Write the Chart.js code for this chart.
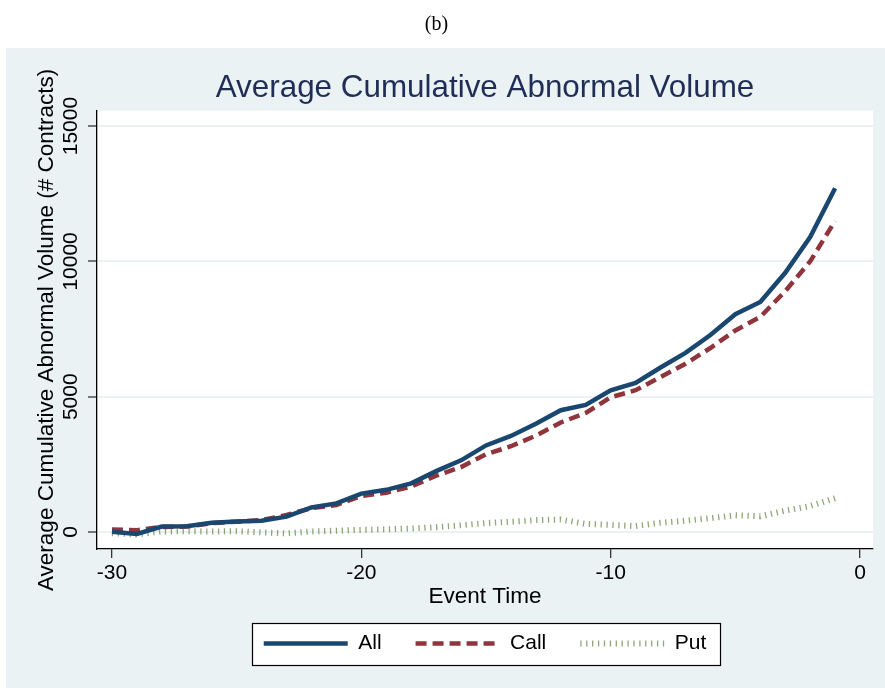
<!DOCTYPE html>
<html>
<head>
<meta charset="utf-8">
<script src="https://cdn.jsdelivr.net/npm/chart.js@4.4.1/dist/chart.umd.min.js"></script>
<style>
  html, body { margin: 0; padding: 0; background: #ffffff; }
  #wrap { width: 885px; height: 688px; }
</style>
</head>
<body>
<div id="wrap"><canvas id="c" width="885" height="688"></canvas></div>
<script>
const eventTime = [-30, -29, -28, -27, -26, -25, -24, -23, -22, -21, -20, -19, -18, -17, -16, -15, -14, -13, -12, -11, -10, -9, -8, -7, -6, -5, -4, -3, -2, -1];
const allVals  = [10, -70, 200, 210, 340, 390, 420, 570, 910, 1060, 1420, 1560, 1800, 2250, 2650, 3200, 3550, 4000, 4500, 4700, 5240, 5510, 6080, 6620, 7280, 8050, 8500, 9580, 10900, 12700];
const callVals = [90, 70, 190, 200, 330, 380, 440, 630, 880, 1000, 1330, 1450, 1680, 2080, 2400, 2870, 3170, 3560, 4050, 4400, 4980, 5240, 5730, 6220, 6800, 7450, 7950, 8900, 10000, 11500];
const putVals  = [-40, -90, 20, 30, 20, 30, -10, -50, 20, 50, 80, 100, 130, 180, 250, 330, 380, 440, 460, 300, 260, 220, 340, 420, 510, 620, 580, 790, 960, 1250];
const xTickVals = [-30, -20, -10, 0];
const yTickVals = [0, 5000, 10000, 15000];
const seriesNames = ['All', 'Call', 'Put'];

const FONT = "'Liberation Sans', Arial, sans-serif";
const BG = '#eaf2f3';

const bgPlugin = {
  id: 'bgPlugin',
  beforeDraw(chart) {
    const ctx = chart.ctx;
    const a = chart.chartArea;
    ctx.save();
    ctx.fillStyle = '#ffffff';
    ctx.fillRect(0, 0, chart.width, chart.height);
    ctx.fillStyle = BG;
    ctx.fillRect(6, 48, chart.width - 6, chart.height - 48);
    ctx.fillStyle = '#ffffff';
    ctx.fillRect(a.left, a.top, a.right - a.left, a.bottom - a.top);
    const lg = chart.legend;
    if (lg && lg.legendHitBoxes && lg.legendHitBoxes.length) {
      let x0 = Infinity, x1 = -Infinity, cy = 0;
      lg.legendHitBoxes.forEach(h => {
        x0 = Math.min(x0, h.left);
        x1 = Math.max(x1, h.left + h.width);
        cy = h.top + h.height / 2;
      });
      const L = Math.round(x0 - 12) + 0.5, R = Math.round(x1 + 14) + 0.5, T = Math.round(cy - 21) + 0.5, B = Math.round(cy + 21) + 0.5;
      ctx.fillStyle = '#ffffff';
      ctx.fillRect(L, T, R - L, B - T);
      ctx.strokeStyle = '#000000';
      ctx.lineWidth = 1.2;
      ctx.strokeRect(L, T, R - L, B - T);
    }
    ctx.restore();
  }
};

const toXY = (vals) => vals.map((v, i) => ({ x: eventTime[i], y: v }));

new Chart(document.getElementById('c'), {
  type: 'line',
  data: {
    datasets: [
      { label: seriesNames[0], data: toXY(allVals), borderColor: '#1a476f', borderWidth: 4.5, borderDash: [], pointRadius: 0, tension: 0, fill: false },
      { label: seriesNames[1], data: toXY(callVals), borderColor: '#90353b', borderWidth: 4.5, borderDash: [11, 6], pointRadius: 0, tension: 0, fill: false },
      { label: seriesNames[2], data: toXY(putVals), borderColor: 'rgba(85,117,47,0.65)', borderWidth: 6, borderDash: [1.3, 4.6], pointRadius: 0, tension: 0, fill: false }
    ]
  },
  options: {
    responsive: false,
    animation: false,
    devicePixelRatio: 1,
    layout: { padding: { left: 0, right: 12, top: 0, bottom: 24 } },
    plugins: {
      title: {
        display: true, text: '(b)', color: '#000000',
        font: { family: "'Liberation Serif', 'DejaVu Serif', serif", size: 20, weight: 'normal', lineHeight: 1.2 },
        padding: { top: 13, bottom: 33 }
      },
      subtitle: {
        display: true, fullSize: false, text: 'Average Cumulative Abnormal Volume', color: '#1f2d57',
        font: { family: FONT, size: 31.4, weight: 'normal', lineHeight: 1.2 },
        padding: { top: 0, bottom: 3 }
      },
      legend: {
        display: true, position: 'bottom', fullSize: false,
        labels: {
          usePointStyle: true, pointStyle: 'line', pointStyleWidth: 84,
          color: '#000000', padding: 34,
          font: { family: FONT, size: 21 },
          generateLabels(chart) {
            return chart.data.datasets.map((d, i) => ({
              text: d.label, strokeStyle: d.borderColor, fillStyle: d.borderColor,
              lineWidth: d.borderWidth, lineDash: d.borderDash, lineCap: 'butt',
              pointStyle: 'line', hidden: false, datasetIndex: i, fontColor: '#000000'
            }));
          }
        }
      },
      tooltip: { enabled: false }
    },
    scales: {
      x: {
        type: 'linear', min: -30.6, max: 0.52,
        afterBuildTicks(s) { s.ticks = xTickVals.map(v => ({ value: v })); },
        afterFit(s) { s.height = 50; },
        grid: { drawOnChartArea: false, color: '#333333', tickLength: 9, lineWidth: 1.3 },
        border: { display: true, color: '#000000', width: 1.3 },
        ticks: { color: '#000000', font: { family: FONT, size: 21 }, padding: 3, maxRotation: 0, autoSkip: false, callback: v => String(v) },
        title: { display: true, text: 'Event Time', color: '#000000', font: { family: FONT, size: 22.5 }, padding: { top: 0, bottom: -11 } }
      },
      y: {
        type: 'linear', min: -627, max: 15570,
        afterBuildTicks(s) { s.ticks = yTickVals.map(v => ({ value: v })); },
        afterFit(s) { s.width = 97; },
        grid: { drawOnChartArea: true, color: BG, lineWidth: 2, tickColor: '#333333', tickWidth: 1.3, tickLength: 9 },
        border: { display: true, color: '#000000', width: 1.3 },
        ticks: { color: '#000000', font: { family: FONT, size: 21 }, minRotation: 90, maxRotation: 90, crossAlign: 'center', padding: -12, autoSkip: false, callback: v => String(v) },
        title: { display: true, text: 'Average Cumulative Abnormal Volume (# Contracts)', color: '#000000', font: { family: FONT, size: 22.5 }, padding: { top: 33, bottom: 0 } }
      }
    }
  },
  plugins: [bgPlugin]
});
</script>
</body>
</html>
